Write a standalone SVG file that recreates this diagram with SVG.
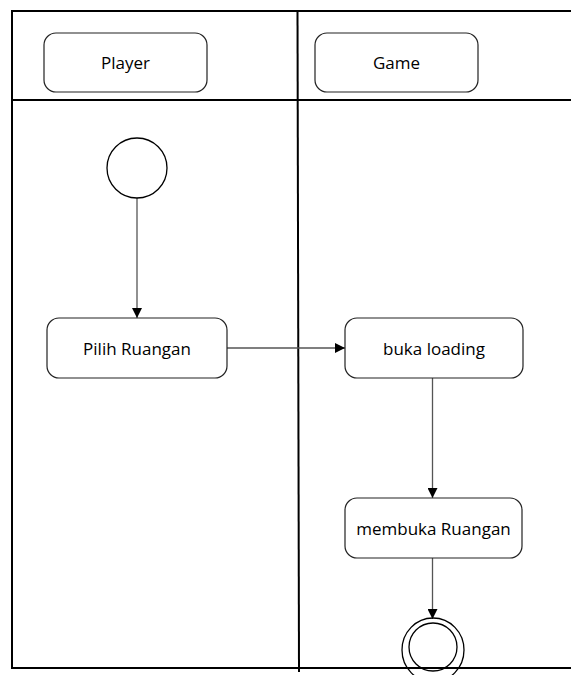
<svg xmlns="http://www.w3.org/2000/svg" width="571" height="675" viewBox="0 0 571 675">
<style>
.frame{fill:none;stroke:#000;stroke-width:2}
.box{fill:#fff;stroke:#222;stroke-width:1.2}
.conn{fill:none;stroke:#555;stroke-width:1.3}
.circ{fill:#fff;stroke:#000;stroke-width:1.3}
text{font-family:"Open Sans","Liberation Sans",sans-serif;font-size:17px;fill:#000;text-anchor:middle;dominant-baseline:central}
</style>
<defs>
<marker id="arr" viewBox="0 0 10 10" refX="10" refY="5" markerWidth="10" markerHeight="10" markerUnits="userSpaceOnUse" orient="auto">
<path d="M0,0 L10,5 L0,10 Z" fill="#000"/>
</marker>
</defs>
<g id="frame">
<path class="frame" d="M571,11 H12 V668 H571"/>
<line class="frame" x1="12" y1="100" x2="571" y2="100"/>
<line class="frame" x1="297.5" y1="11" x2="299" y2="672"/>
</g>
<g id="lane-player"><rect class="box" x="44" y="33" width="163" height="59" rx="12"/><text x="125.5" y="62.5">Player</text></g>
<g id="lane-game"><rect class="box" x="315" y="33" width="163" height="59" rx="12"/><text x="396.5" y="62.5">Game</text></g>
<g id="connectors">
<line class="conn" x1="137" y1="198" x2="137" y2="318" marker-end="url(#arr)"/>
<line class="conn" x1="227" y1="348" x2="345" y2="348" marker-end="url(#arr)"/>
<line class="conn" x1="432.5" y1="378" x2="432.5" y2="498" marker-end="url(#arr)"/>
<line class="conn" x1="432.5" y1="558" x2="432.5" y2="619" marker-end="url(#arr)"/>
</g>
<g id="start"><circle class="circ" cx="137" cy="168" r="30"/></g>
<g id="pilih"><rect class="box" x="47" y="318" width="180" height="60" rx="12"/><text x="137" y="348">Pilih Ruangan</text></g>
<g id="buka"><rect class="box" x="345" y="318" width="178" height="60" rx="12"/><text x="434" y="348">buka loading</text></g>
<g id="membuka"><rect class="box" x="345" y="498" width="177" height="60" rx="12"/><text x="433.5" y="528">membuka Ruangan</text></g>
<g id="end">
<ellipse fill="none" stroke="#000" stroke-width="1.3" cx="433" cy="650" rx="31" ry="32"/>
<ellipse fill="none" stroke="#000" stroke-width="1.3" cx="433" cy="647" rx="24" ry="24"/>
</g>
</svg>
